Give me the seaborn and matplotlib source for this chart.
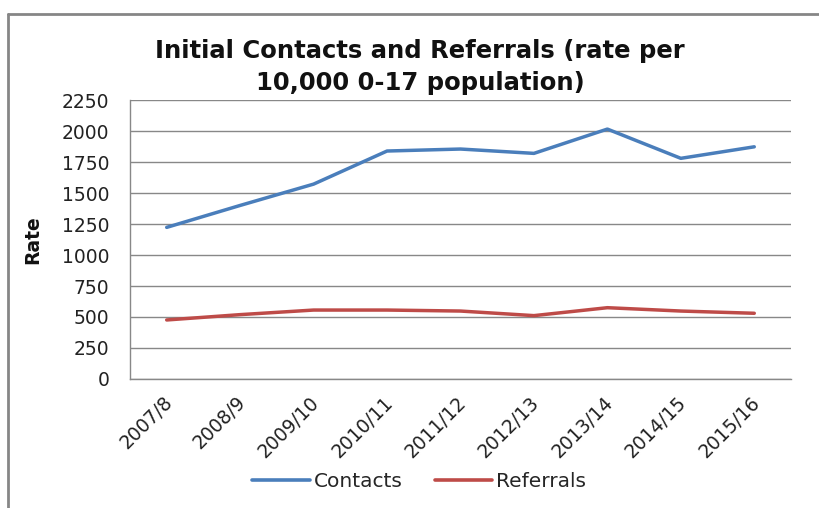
import matplotlib
matplotlib.use("Agg")
import matplotlib.pyplot as plt
import matplotlib.transforms as mtransforms
from matplotlib.lines import Line2D
from matplotlib.ticker import FixedLocator, NullFormatter, FixedFormatter
import seaborn as sns
import pandas as pd
import numpy as np

# Chart data
years = ["2007/8", "2008/9", "2009/10", "2010/11", "2011/12",
         "2012/13", "2013/14", "2014/15", "2015/16"]
contacts = [1223, 1400, 1572, 1839, 1855, 1820, 2016, 1780, 1873]
referrals = [476, 519, 556, 556, 548, 511, 575, 548, 530]
y_ticks = [0, 250, 500, 750, 1000, 1250, 1500, 1750, 2000, 2250]

series_names = ["Contacts", "Referrals"]
series_colors = {"Contacts": "#4A7EBB", "Referrals": "#BE4B48"}

sns.set_theme(style="white")
plt.rcParams["font.family"] = ["DejaVu Sans"]

df = pd.DataFrame({
    "pos": list(range(len(years))) * 2,
    "value": contacts + referrals,
    "series": ["Contacts"] * len(years) + ["Referrals"] * len(years),
})

fig = plt.figure(figsize=(8.19, 5.08), dpi=100)
ax = fig.add_axes([0.1587, 0.254, 0.8071, 0.549])

sns.lineplot(data=df, x="pos", y="value", hue="series", palette=series_colors,
             hue_order=series_names, linewidth=2.5, ax=ax, legend=False)

grid_c = "#888888"
ax.set_xlim(-0.5, len(years) - 0.5)
ax.set_ylim(0, 2250)
ax.set_yticks(y_ticks)
ax.yaxis.grid(True, color=grid_c, linewidth=1)
ax.set_axisbelow(True)

# category boundaries carry the tick marks, centres carry the labels
ax.xaxis.set_major_locator(FixedLocator(np.arange(-0.5, len(years), 1.0)))
ax.xaxis.set_major_formatter(NullFormatter())
ax.xaxis.set_minor_locator(FixedLocator(np.arange(len(years))))
ax.xaxis.set_minor_formatter(FixedFormatter(years))
ax.tick_params(axis="x", which="major", length=6, width=1, color=grid_c, direction="out")
ax.tick_params(axis="x", which="minor", length=0, pad=10, labelsize=13.5, labelcolor="#222222")
ax.tick_params(axis="y", length=7, width=1, color=grid_c, direction="out",
               labelsize=13.5, labelcolor="#222222", pad=8)
shift = mtransforms.ScaledTranslation(-0.04, 0, fig.dpi_scale_trans)
for lab in ax.get_xticklabels(minor=True):
    lab.set_rotation(45)
    lab.set_ha("right")
    lab.set_va("top")
    lab.set_rotation_mode("anchor")
    lab.set_transform(lab.get_transform() + shift)

for side in ["top", "right"]:
    ax.spines[side].set_visible(False)
for side in ["left", "bottom"]:
    ax.spines[side].set_color(grid_c)
    ax.spines[side].set_linewidth(1)

ax.set_xlabel("")
ax.set_ylabel("Rate", fontsize=13.5, fontweight="bold", color="#111111", labelpad=14)

fig.text(0.513, 0.868, "Initial Contacts and Referrals (rate per\n10,000 0-17 population)",
         ha="center", va="center", fontsize=17.5, fontweight="bold",
         color="#111111", linespacing=1.45)

handles = [Line2D([], [], color=series_colors[n], linewidth=2.6) for n in series_names]
fig.legend(handles, series_names, loc="center", bbox_to_anchor=(0.512, 0.053),
           ncol=2, frameon=False, fontsize=14.5, handlelength=2.85, handletextpad=0.2,
           columnspacing=1.6)

# outer chart frame (only left and top edges fall inside the picture)
fig.add_artist(Line2D([0.0098, 0.0098], [0.0, 0.972], color="#868686", linewidth=2,
                      transform=fig.transFigure))
fig.add_artist(Line2D([0.0098, 1.0], [0.972, 0.972], color="#868686", linewidth=2,
                      transform=fig.transFigure))

fig.savefig("out.png", dpi=100, facecolor="white")
